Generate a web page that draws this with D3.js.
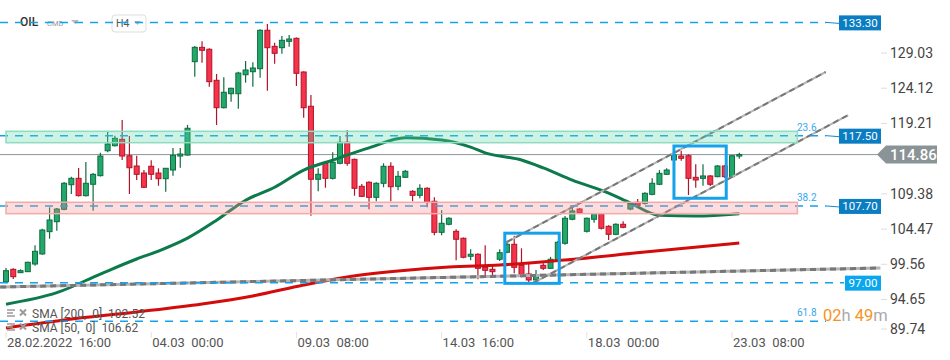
<!DOCTYPE html>
<html>
<head>
<meta charset="utf-8">
<script src="https://cdn.jsdelivr.net/npm/d3@7"></script>
<style>
  body { margin: 0; background: #fff; }
  svg { font-family: Roboto, "Noto Sans", sans-serif; display: block; }
</style>
</head>
<body>
<div id="chart"></div>
<script>
// H4 candles, bar 0 = 28.02.2022 16:00
var open = [97.13,98.86,98.39,98.53,99.60,101.0,104.11,105.50,107.23,110.66,111.55,109.13,110.72,111.92,115.40,116.10,116.99,114.70,113.27,112.29,
  113.23,112.29,111.50,112.71,114.66,114.80,127.82,129.82,129.55,125.22,121.40,123.35,123.35,126.0,126.42,126.84,132.2,129.96,129.77,130.66,
  131.08,126.38,121.6,111.42,113.65,111.55,113.65,116.58,114.20,110.44,111.0,108.90,110.86,113.23,110.44,111.69,109.74,109.18,110.16,108.35,
  104.02,105.14,104.16,103.19,100.68,100.96,99.14,98.86,100.26,101.23,102.35,99.42,98.21,97.37,99.42,99.0,100.16,102.49,105.84,107.27,
  104.16,105.84,106.58,104.86,103.74,105.14,107.27,108.21,108.07,109.32,110.72,112.11,114.11,114.66,114.70,111.69,111.55,111.88,111.78,113.27,
  111.78,114.66];
var high = [99.04,99.0,98.86,99.9,102.21,104.5,107.51,107.4,111.05,111.78,112.99,113.83,112.3,115.12,118.05,117.50,119.69,117.45,114.70,112.71,
  114.07,112.95,113.0,115.78,115.78,118.99,130.0,130.66,129.7,126.10,125.64,124.2,126.4,127.91,127.73,132.34,133.07,130.47,131.4,131.54,
  131.2,126.5,123.17,112.95,113.8,115.18,117.45,118.29,114.3,110.76,111.14,111.0,113.65,113.79,112.57,112.71,109.9,110.72,110.3,108.90,
  107.09,106.12,104.44,103.3,101.65,101.1,102.21,99.42,101.65,102.8,103.55,101.79,99.60,98.76,99.70,100.6,102.8,106.30,107.41,107.4,
  106.1,106.7,106.7,105.0,105.3,105.56,108.2,108.67,109.6,111.55,112.7,112.95,115.12,115.40,114.9,113.51,113.51,112.0,113.4,113.4,
  114.8,115.12];
var low = [96.92,97.51,98.34,98.5,99.36,100.9,103.13,104.25,107.1,109.36,109.0,109.0,107.03,111.8,115.2,116.0,114.11,109.36,111.32,110.2,
  111.32,110.52,109.69,111.92,113.03,114.7,125.72,127.68,124.33,118.99,121.3,122.24,121.26,124.89,124.33,125.59,123.77,127.54,128.93,129.91,
  124.43,120.01,106.34,109.74,110.24,111.4,113.5,113.31,109.13,108.95,107.23,108.35,110.30,108.35,109.88,111.6,108.35,108.77,107.51,103.60,
  103.60,105.0,100.12,100.4,100.12,97.47,98.03,98.03,100.02,101.1,98.30,97.75,97.09,97.27,98.76,98.9,100.0,102.3,105.7,106.6,
  104.0,105.37,104.4,102.95,103.6,104.6,107.1,107.7,107.9,109.2,110.6,112.0,114.0,114.01,109.22,110.24,110.52,110.48,111.7,111.6,
  111.6,114.29];
var close = [98.67,97.83,98.67,99.84,101.37,104.34,105.74,107.27,110.86,111.55,109.13,110.86,112.11,114.66,116.34,117.13,114.66,113.03,112.11,110.30,
  112.11,111.50,112.95,114.76,114.94,118.53,129.82,129.41,125.03,121.40,123.55,124.11,126.24,126.66,126.94,132.2,129.77,128.99,130.8,130.98,
  126.2,121.40,111.42,112.11,111.55,113.79,116.58,113.65,110.16,109.04,108.90,110.86,113.23,110.38,111.83,112.53,109.18,110.16,108.21,104.02,
  105.28,105.98,103.05,100.54,100.96,99.0,98.72,98.53,101.18,102.35,99.14,97.97,97.37,98.03,99.0,100.26,102.63,105.98,107.0,106.76,
  105.98,106.58,104.58,103.74,105.14,104.72,108.07,107.79,109.46,110.86,112.25,112.71,114.80,114.34,111.55,111.32,111.88,110.72,113.27,111.78,
  114.70,114.86];

// moving averages read at some bars
var sma50Idx = [0, 7, 13, 18, 21, 25, 29, 33, 37, 41, 45, 50, 55, 60, 64, 66, 71, 74, 78, 83, 86, 90, 95, 101];
var sma50Val = [94.0, 95.6, 98.2, 100.3, 101.4, 103.2, 105.7, 108.5, 110.3, 112.7, 114.1, 115.8, 117.2, 116.9, 115.9, 115.1, 114.1, 113.0, 111.3, 109.5, 108.1, 106.4, 106.3, 106.62];
var sma200Idx = [0, 8, 18, 27, 34, 41, 47, 54, 61, 68, 77, 88, 101];
var sma200Val = [90.68, 91.79, 92.91, 94.02, 95.14, 96.67, 97.79, 98.62, 99.18, 99.46, 100.16, 101.27, 102.52];

// horizontal levels
var levelPrices = [133.30, 117.50, 107.70, 97.00];
var levelLabels = ["133.30", "117.50", "107.70", "97.00"];
var fibPrices = [117.50, 107.70, 91.6];
var fibLabels = ["23.6", "38.2", "61.8"];
var lastPrice = 114.86;

// zones [top, bottom]
var greenZone = [118.11, 116.52];
var redZone = [108.21, 106.62];

// trend lines [i1, p1, i2, p2]
var trendBase = [-0.8, 96.39, 120.4, 99.04];
var channelUp = [69.0, 102.67, 112.9, 126.38];
var channelDown = [72.6, 96.95, 116.0, 120.38];

// highlight boxes [i1, i2, pTop, pBottom]
var boxes = [[68.7, 76.2, 103.9, 96.9], [92.0, 99.2, 116.06, 108.77]];

var yTicks = [129.03, 124.12, 119.21, 109.38, 104.47, 99.56, 94.65, 89.74];
var dateIdx = [0, 20, 40, 60, 80, 100];
var dateLabels = ["28.02.2022  16:00", "04.03  00:00", "09.03  08:00", "14.03  16:00", "18.03  00:00", "23.03  08:00"];

var W = 950, H = 360;
var svg = d3.select("#chart").append("svg").attr("width", W).attr("height", H);

var x = d3.scaleLinear().domain([0, 101]).range([6, 739.3]);
var y = d3.scaleLinear().domain([89.74, 129.03]).range([334.7, 53]);

var blue = "#14a3ea";

// header
var head = svg.append("g");
head.append("text").attr("x", 20).attr("y", 26).attr("font-size", 12).attr("font-weight", 500).attr("fill", "#333").text("OIL");
head.append("text").attr("x", 47).attr("y", 26).attr("font-size", 7.5).attr("fill", "#999").text("CMD");
head.append("path").attr("d", "M71,20L79,20L75,24Z").attr("fill", "#bbb");
head.append("rect").attr("x", 112).attr("y", 15).attr("width", 34).attr("height", 17).attr("rx", 3)
  .attr("fill", "none").attr("stroke", "#ddd");
head.append("text").attr("x", 116).attr("y", 27).attr("font-size", 10.5).attr("fill", "#555").text("H4");
head.append("path").attr("d", "M134,21L141,21L137.5,25Z").attr("fill", "#bbb");

// last price line
svg.append("line").attr("x1", 0).attr("x2", 880).attr("y1", y(lastPrice)).attr("y2", y(lastPrice))
  .attr("stroke", "#8c9396").attr("stroke-width", 1);

// candles
var bw = 5;
var candles = svg.append("g").selectAll("g").data(d3.range(open.length)).enter().append("g");
candles.append("line")
  .attr("x1", function(i) { return x(i); }).attr("x2", function(i) { return x(i); })
  .attr("y1", function(i) { return y(high[i]); }).attr("y2", function(i) { return y(low[i]); })
  .attr("stroke", function(i) { return close[i] >= open[i] ? "#0f6b40" : "#b0142a"; })
  .attr("stroke-width", 1.2);
candles.append("rect")
  .attr("x", function(i) { return x(i) - bw / 2; })
  .attr("y", function(i) { return y(Math.max(open[i], close[i])); })
  .attr("width", bw)
  .attr("height", function(i) { return Math.max(1.5, Math.abs(y(open[i]) - y(close[i]))); })
  .attr("fill", function(i) { return close[i] >= open[i] ? "#22a86b" : "#f5334a"; })
  .attr("stroke", function(i) { return close[i] >= open[i] ? "#0f6b40" : "#b0142a"; })
  .attr("stroke-width", 1);

// moving averages
var maLine = d3.line().curve(d3.curveMonotoneX)
  .x(function(d) { return x(d[0]); }).y(function(d) { return y(d[1]); });
svg.append("path").datum(d3.zip(sma200Idx, sma200Val)).attr("d", maLine)
  .attr("fill", "none").attr("stroke", "#d30b0b").attr("stroke-width", 3);
svg.append("path").datum(d3.zip(sma50Idx, sma50Val)).attr("d", maLine)
  .attr("fill", "none").attr("stroke", "#0d7a4c").attr("stroke-width", 3);

// trend lines
function trend(t, w) {
  svg.append("line").attr("x1", x(t[0])).attr("y1", y(t[1])).attr("x2", x(t[2])).attr("y2", y(t[3]))
    .attr("stroke", "#b4b4b4").attr("stroke-width", w);
  svg.append("line").attr("x1", x(t[0])).attr("y1", y(t[1])).attr("x2", x(t[2])).attr("y2", y(t[3]))
    .attr("stroke", "#777").attr("stroke-width", w).attr("stroke-dasharray", "6,4");
}
trend(trendBase, 3);
trend(channelUp, 2);
trend(channelDown, 2);

// dashed levels
var zoneRight = x(109);
levelPrices.forEach(function(p, k) {
  var end = k === 3 ? 844 : 826;
  svg.append("line").attr("x1", 0).attr("x2", end).attr("y1", y(p)).attr("y2", y(p))
    .attr("stroke", blue).attr("stroke-width", 1.5).attr("stroke-dasharray", "8,7");
});
svg.append("line").attr("x1", 0).attr("x2", 826).attr("y1", y(fibPrices[2])).attr("y2", y(fibPrices[2]))
  .attr("stroke", blue).attr("stroke-width", 1.5).attr("stroke-dasharray", "8,7");

// zones
[[greenZone, "rgba(90,215,165,0.30)", "#8fdcc0"], [redZone, "rgba(245,140,140,0.30)", "#f2aaaa"]].forEach(function(z) {
  svg.append("rect").attr("x", x(0)).attr("width", zoneRight - x(0))
    .attr("y", y(z[0][0])).attr("height", y(z[0][1]) - y(z[0][0]))
    .attr("fill", z[1]).attr("stroke", z[2]).attr("stroke-width", 1.5);
});

// fib labels
fibPrices.forEach(function(p, k) {
  svg.append("text").attr("x", 797).attr("y", y(p) - 5).attr("font-size", 10).attr("fill", "#35a8ea").text(fibLabels[k]);
});

// highlight boxes
boxes.forEach(function(b) {
  svg.append("rect").attr("x", x(b[0])).attr("width", x(b[1]) - x(b[0]))
    .attr("y", y(b[2])).attr("height", y(b[3]) - y(b[2]))
    .attr("fill", "none").attr("stroke", "#15a2ea").attr("stroke-width", 3);
});

// level tags on the right
levelPrices.forEach(function(p, k) {
  var yy = y(p);
  var light = k === 3;
  var bx = light ? 845 : 839;
  if (!light) {
    svg.append("line").attr("x1", 826).attr("y1", yy).attr("x2", bx).attr("y2", yy + 1)
      .attr("stroke", "#1a86c8").attr("stroke-width", 1);
  }
  svg.append("rect").attr("x", bx).attr("y", yy - 7).attr("width", 881 - bx).attr("height", 15)
    .attr("fill", light ? "#0aa6ee" : "#0b7dc2");
  svg.append("text").attr("x", (bx + 881) / 2).attr("y", yy + 4.5).attr("text-anchor", "middle")
    .attr("font-size", 11.5).attr("fill", "#fff").text(levelLabels[k]);
});

// right axis
yTicks.forEach(function(t) {
  var yy = Math.min(y(t), 329);
  svg.append("line").attr("x1", 881).attr("x2", 887).attr("y1", yy).attr("y2", yy).attr("stroke", "#ddd");
  svg.append("text").attr("x", 890).attr("y", yy + 5).attr("font-size", 14).attr("fill", "#444").text(t.toFixed(2));
});

// last price tag
var ly = y(lastPrice);
svg.append("path")
  .attr("d", "M877," + ly + "L886," + (ly - 9) + "L937," + (ly - 9) + "L937," + (ly + 9) + "L886," + (ly + 9) + "Z")
  .attr("fill", "#8a9396");
svg.append("text").attr("x", 890).attr("y", ly + 5.5).attr("font-size", 15).attr("font-weight", 500)
  .attr("fill", "#fff").text(lastPrice.toFixed(2));

// date axis
dateIdx.forEach(function(i, k) {
  svg.append("line").attr("x1", x(i)).attr("x2", x(i)).attr("y1", 332).attr("y2", 338).attr("stroke", "#e2e2e2");
  svg.append("text").attr("x", x(i) + 1).attr("y", 347).attr("font-size", 13).attr("fill", "#555")
    .style("white-space", "pre").text(dateLabels[k]);
});

// legend
var legend = [["SMA [200,  0]  102.52", 313], ["SMA [50,  0]  106.62", 327]];
legend.forEach(function(l) {
  var g = svg.append("g").attr("transform", "translate(0," + l[1] + ")");
  [-3, 0, 3].forEach(function(o, j) {
    g.append("line").attr("x1", 7).attr("x2", j === 1 ? 13 : 15).attr("y1", o).attr("y2", o)
      .attr("stroke", "#9a9a9a").attr("stroke-width", 1.5);
  });
  g.append("path").attr("d", "M20,-3.5L26,2.5M26,-3.5L20,2.5").attr("stroke", "#9a9a9a").attr("stroke-width", 2);
  g.append("text").attr("x", 32).attr("y", 4.5).attr("font-size", 12).attr("fill", "#555")
    .style("white-space", "pre").text(l[0]);
});

// countdown
var cd = svg.append("text").attr("x", 823).attr("y", 321).attr("font-size", 16.5);
cd.append("tspan").attr("fill", "#f7941d").text("02");
cd.append("tspan").attr("fill", "#aaa").text("h ");
cd.append("tspan").attr("fill", "#f7941d").text("49");
cd.append("tspan").attr("fill", "#aaa").text("m");
</script>
</body>
</html>
